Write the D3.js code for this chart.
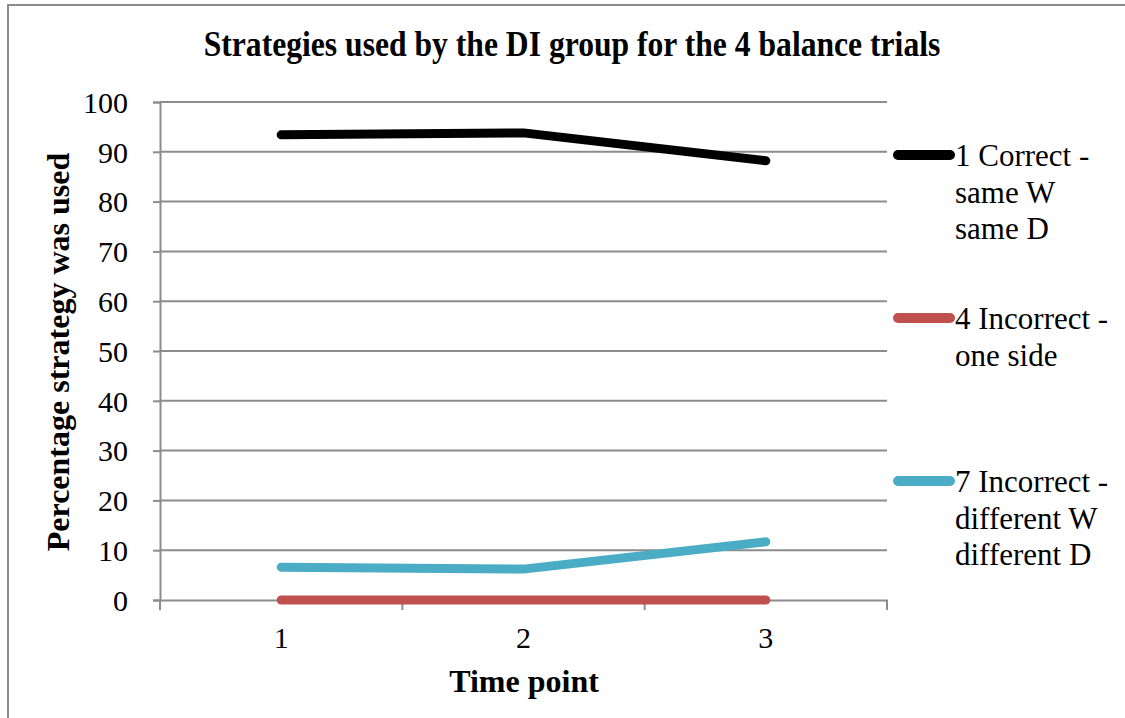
<!DOCTYPE html>
<html lang="en">
<head>
    <meta charset="UTF-8">
    <title>Strategies used by the DI group</title>
    <script src="https://d3js.org/d3.v7.min.js"></script>
    <style>
        body { margin: 0; background: #fff; }
        svg text { font-family: "Liberation Serif", "Times New Roman", serif !important; fill: #000; }
    </style>
</head>
<body>
    <script>
        // data
        let timePoints = ['1', '2', '3'];
        let seriesNames = [
            ['1 Correct -', 'same W', 'same D'],
            ['4 Incorrect -', 'one side'],
            ['7 Incorrect -', 'different W', 'different D']
        ];
        let correctSame = [93.4, 93.8, 88.2];
        let incorrectOneSide = [0, 0, 0];
        let incorrectDifferent = [6.6, 6.2, 11.7];
        let yTicks = [0, 10, 20, 30, 40, 50, 60, 70, 80, 90, 100];
        let colors = ['#000000', '#c0504d', '#4bacc6'];

        let width = 1125, height = 718;
        let plot = { left: 160, right: 887, top: 102, bottom: 600 };

        let svg = d3.select('body').append('svg')
                    .attr('width', width)
                    .attr('height', height);

        // chart frame (right and bottom edges run off the page)
        svg.append('rect')
           .attr('x', 8).attr('y', 5)
           .attr('width', width + 10).attr('height', height + 10)
           .attr('fill', 'none').attr('stroke', '#8c8c8c').attr('stroke-width', 2);

        let x = d3.scaleBand().domain(timePoints).range([plot.left, plot.right]);
        let y = d3.scaleLinear().domain([0, 100]).range([plot.bottom, plot.top]);

        // grid lines
        svg.append('g').selectAll('line')
           .data(yTicks.filter(d => d > 0))
           .enter().append('line')
           .attr('x1', plot.left).attr('x2', plot.right)
           .attr('y1', d => y(d)).attr('y2', d => y(d))
           .attr('stroke', '#8c8c8c').attr('stroke-width', 2);

        // y axis
        let yAxis = svg.append('g')
                       .attr('transform', `translate(${plot.left},0)`)
                       .call(d3.axisLeft(y).tickValues(yTicks).tickSize(7).tickPadding(25));
        yAxis.select('.domain').attr('stroke', '#8c8c8c').attr('stroke-width', 2);
        yAxis.selectAll('.tick line').attr('stroke', '#8c8c8c').attr('stroke-width', 2);
        yAxis.selectAll('text')
             .attr('font-size', 30)
             .attr('dy', '0.34em');

        // x axis
        let xAxis = svg.append('g')
                       .attr('transform', `translate(0,${plot.bottom})`)
                       .call(d3.axisBottom(x).tickSize(0));
        xAxis.select('.domain').attr('stroke', '#8c8c8c').attr('stroke-width', 2);
        xAxis.selectAll('text')
             .attr('font-size', 30)
             .attr('y', 48).attr('dy', 0);
        // tick marks between categories
        let bounds = timePoints.map(d => x(d)).concat([plot.right]);
        svg.append('g').selectAll('line')
           .data(bounds)
           .enter().append('line')
           .attr('x1', d => d).attr('x2', d => d)
           .attr('y1', plot.bottom).attr('y2', plot.bottom + 10)
           .attr('stroke', '#8c8c8c').attr('stroke-width', 2);

        // lines
        let allSeries = [correctSame, incorrectOneSide, incorrectDifferent];
        let line = d3.line()
                     .x((d, i) => x(timePoints[i]) + x.bandwidth() / 2)
                     .y(d => y(d));
        [1, 2, 0].forEach(k => {
            svg.append('path')
               .attr('d', line(allSeries[k]))
               .attr('fill', 'none')
               .attr('stroke', colors[k])
               .attr('stroke-width', 9)
               .attr('stroke-linecap', 'round')
               .attr('stroke-linejoin', 'round');
        });

        // title
        svg.append('text')
           .attr('transform', 'translate(572,56) scale(0.93,1.05)')
           .attr('text-anchor', 'middle')
           .attr('font-size', 34).attr('font-weight', 'bold')
           .text('Strategies used by the DI group for the 4 balance trials');

        // axis titles
        svg.append('text')
           .attr('x', 524).attr('y', 692)
           .attr('text-anchor', 'middle')
           .attr('font-size', 32).attr('font-weight', 'bold')
           .text('Time point');

        svg.append('text')
           .attr('transform', 'translate(69,352) rotate(-90)')
           .attr('text-anchor', 'middle')
           .attr('font-size', 32).attr('font-weight', 'bold')
           .text('Percentage strategy was used');

        // legend
        let legendY = [155, 318, 481];
        let legend = svg.append('g').selectAll('g')
                        .data(seriesNames)
                        .enter().append('g')
                        .attr('transform', (d, i) => `translate(0,${legendY[i]})`);
        legend.append('line')
              .attr('x1', 898).attr('x2', 950)
              .attr('y1', 0).attr('y2', 0)
              .attr('stroke', (d, i) => colors[i])
              .attr('stroke-width', 10)
              .attr('stroke-linecap', 'round');
        legend.append('text')
              .attr('x', 955).attr('y', 11)
              .attr('font-size', 31)
              .selectAll('tspan')
              .data(d => d)
              .enter().append('tspan')
              .attr('x', 955)
              .attr('dy', (d, i) => i === 0 ? 0 : 36.5)
              .text(d => d);
    </script>
</body>
</html>
